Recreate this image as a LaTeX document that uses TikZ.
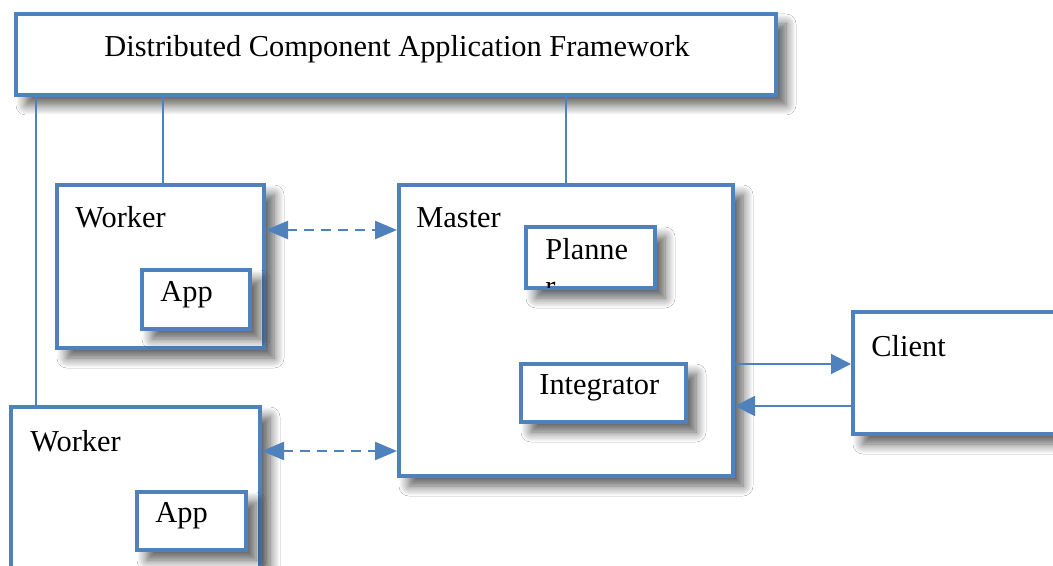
\documentclass[tikz,border=0pt]{standalone}
\usepackage{fontspec}
\setmainfont{Liberation Serif}
\usetikzlibrary{arrows.meta,shadows.blur}
\definecolor{boxblue}{RGB}{79,129,189}

\tikzset{
  box/.style={draw=boxblue, line width=2pt, fill=white, inner sep=0pt,
    blur shadow={shadow xshift=5pt, shadow yshift=-5pt, shadow blur radius=5pt,
      shadow blur steps=10, shadow opacity=65}},
  lbl/.style={anchor=base west, inner sep=0pt, font=\fontsize{15.2}{18.5}\selectfont},
  link/.style={draw=boxblue, line width=1pt},
  duplex/.style={draw=boxblue, line width=1.2pt, dash pattern=on 5pt off 3.5pt,
    {Triangle[length=11pt,width=9pt]}-{Triangle[length=11pt,width=9pt]}},
  oneway/.style={draw=boxblue, line width=1pt, -{Triangle[length=10pt,width=10pt]}},
}

\begin{document}
\begin{tikzpicture}[x=0.5pt,y=-0.5pt]
\useasboundingbox (0,0) rectangle (1053,566);
\fill[white] (0,0) rectangle (1053,566);
\clip (0,0) rectangle (1053,566);

% boxes
\node[box, minimum width=380pt, minimum height=40.5pt] (frame) at (396,54.5) {};
\node[box, minimum width=103.5pt, minimum height=81.5pt] (worker1) at (160.5,266.5) {};
\node[box, minimum width=54pt, minimum height=29.5pt] (app1) at (196,299.5) {};
\node[box, minimum width=167pt, minimum height=145.5pt] (master) at (566,330.5) {};
\node[box, minimum width=64.5pt, minimum height=30.5pt] (planner) at (590.5,257.5) {};
\node[box, minimum width=82.5pt, minimum height=29pt] (integrator) at (603.5,393) {};
\node[box, minimum width=107.5pt, minimum height=61pt] (client) at (960.5,373) {};
\node[box, minimum width=124.5pt, minimum height=95.5pt] (worker2) at (135.5,502.5) {};
\node[box, minimum width=54.5pt, minimum height=29pt] (app2) at (191.5,521) {};

% labels
\node[lbl, anchor=base] (tframe) at (397,57) {Distributed Component Application Framework};
\node[lbl] (tworker1) at (75,228) {Worker};
\node[lbl] (tapp1) at (160,302) {App};
\node[lbl] (tmaster) at (416,228) {Master};
\node[lbl] (tintegrator) at (539,394) {Integrator};
\node[lbl] (tclient) at (871,356) {Client};
\node[lbl] (tworker2) at (30,451) {Worker};
\node[lbl] (tapp2) at (155,522) {App};
\begin{scope}
  \clip ([shift={(1pt,-1pt)}]planner.north west) rectangle ([shift={(-1pt,1pt)}]planner.south east);
  \node[lbl, anchor=north west, align=left] (tplanner) at (545,238) {Planne\\r};
\end{scope}

% links to the framework
\draw[link] (frame.south -| 36,0) -- (worker2.north -| 36,0);
\draw[link] (frame.south -| 163,0) -- (worker1.north -| 163,0);
\draw[link] (frame.south -| 566,0) -- (master.north);

% messages
\draw[duplex] (worker1.east |- 0,230) -- (master.west |- 0,230);
\draw[duplex] (worker2.east |- 0,451) -- (master.west |- 0,451);
\draw[oneway] (master.east |- 0,364) -- (client.west |- 0,364);
\draw[oneway] (client.west |- 0,406) -- (master.east |- 0,406);
\end{tikzpicture}
\end{document}
